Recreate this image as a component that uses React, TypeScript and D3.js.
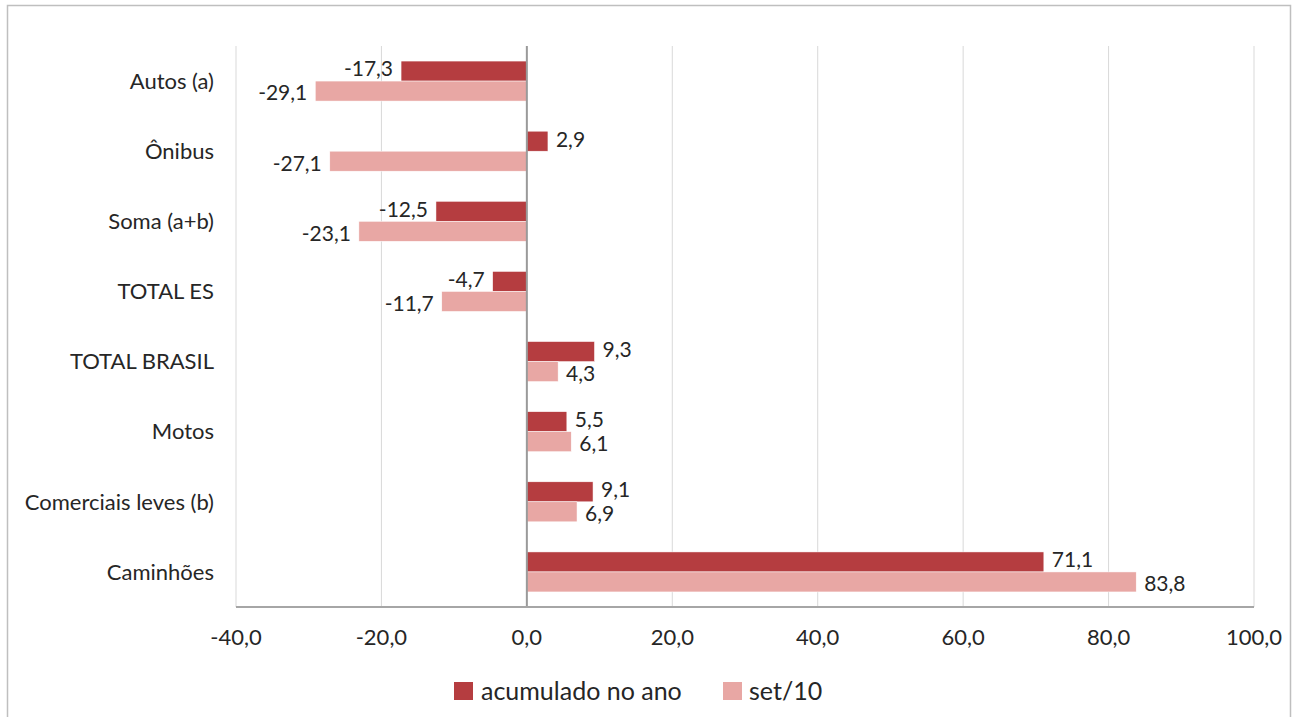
import React from 'react';
import * as d3 from 'd3';

const categories = ['Autos (a)', 'Ônibus', 'Soma (a+b)', 'TOTAL ES', 'TOTAL BRASIL', 'Motos', 'Comerciais leves (b)', 'Caminhões'];
const acumulado = [-17.3, 2.9, -12.5, -4.7, 9.3, 5.5, 9.1, 71.1];
const set10 = [-29.1, -27.1, -23.1, -11.7, 4.3, 6.1, 6.9, 83.8];
const ticks = [-40, -20, 0, 20, 40, 60, 80, 100];
const seriesNames = ['acumulado no ano', 'set/10'];
const colors = ['#b53d40', '#e8a7a4'];

const W = 1294;
const H = 717;
const font = 'Lato, "Open Sans", sans-serif';
const txt = '#262626';
const fmt = (v: number) => v.toFixed(1).replace('.', ',');

const App: React.FC = () => {
  const x = d3.scaleLinear().domain([-40, 100]).range([236, 1254]);
  const y = d3.scaleBand<string>().domain(categories).range([46, 607]);
  const barH = 20;
  const series = [acumulado, set10];

  return (
    <svg width={W} height={H} style={{ position: 'absolute', left: 0, top: 0 }}>
      <rect x={0} y={0} width={W} height={H} fill="#fff" />
      <rect x={7.5} y={5.5} width={1283} height={720} fill="none" stroke="#bfbfbf" strokeWidth={1.5} />
      {/* gridlines */}
      {ticks.filter(t => t !== 0).map(t => (
        <line key={t} x1={x(t)} x2={x(t)} y1={46} y2={607} stroke="#d9d9d9" strokeWidth={1} />
      ))}
      {/* bars */}
      {categories.map((c, i) => {
        const cy = (y(c) ?? 0) + y.bandwidth() / 2;
        return series.map((s, k) => {
          const v = s[i];
          const by = cy - barH + k * barH;
          const x0 = x(Math.min(0, v));
          const x1 = x(Math.max(0, v));
          const lx = v >= 0 ? x1 + 8 : x0 - 8;
          return (
            <g key={c + k}>
              <rect x={x0} y={by} width={x1 - x0} height={barH} fill={colors[k]} stroke="#fff" strokeWidth={0.5} />
              <text x={lx} y={by + barH / 2 + (k === 0 ? -2 : 2)} dy="0.35em" textAnchor={v >= 0 ? 'start' : 'end'}
                fontFamily={font} fontSize={21} fill={txt}>{fmt(v)}</text>
            </g>
          );
        });
      })}
      {/* zero line */}
      <line x1={x(0)} x2={x(0)} y1={46} y2={607} stroke="#9a9a9a" strokeWidth={2} />
      {/* x axis */}
      <line x1={236} x2={1254} y1={607} y2={607} stroke="#a6a6a6" strokeWidth={2} />
      {ticks.map(t => (
        <text key={t} x={x(t)} y={637} dy="0.35em" textAnchor="middle" fontFamily={font} fontSize={22} fill={txt}>{fmt(t)}</text>
      ))}
      {/* category labels */}
      {categories.map(c => (
        <text key={c} x={214} y={(y(c) ?? 0) + y.bandwidth() / 2} dy="0.35em" textAnchor="end"
          fontFamily={font} fontSize={22} fill={txt}>{c}</text>
      ))}
      {/* legend */}
      <rect x={454} y={682} width={19} height={18} fill={colors[0]} />
      <text x={481} y={691} dy="0.35em" fontFamily={font} fontSize={25} fill={txt}>{seriesNames[0]}</text>
      <rect x={723} y={682} width={19} height={18} fill={colors[1]} />
      <text x={749} y={691} dy="0.35em" fontFamily={font} fontSize={25} fill={txt}>{seriesNames[1]}</text>
    </svg>
  );
};

export default App;
